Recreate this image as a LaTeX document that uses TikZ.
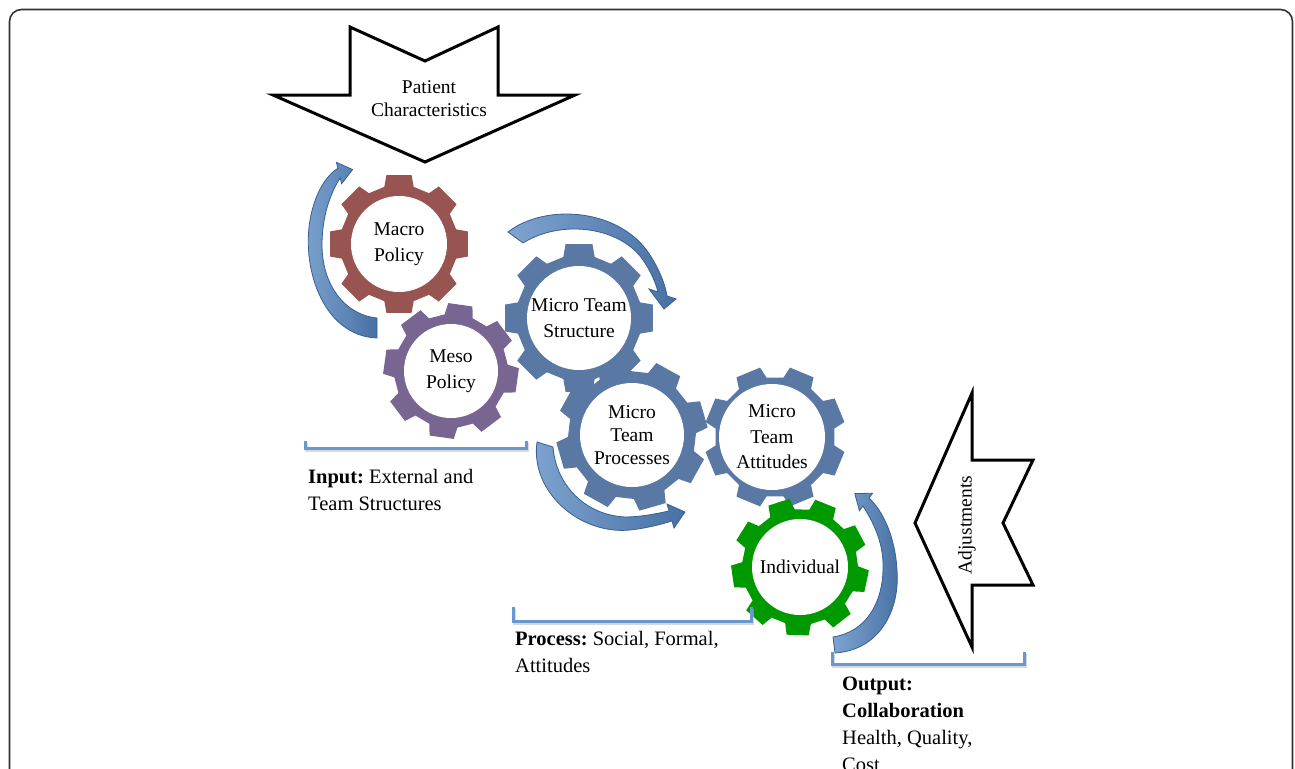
\documentclass[tikz,border=0pt]{standalone}
\usepackage{fontspec}
\setmainfont{Liberation Serif}
\definecolor{macroc}{RGB}{152,84,80}
\definecolor{mesoc}{RGB}{121,101,146}
\definecolor{microc}{RGB}{90,120,164}
\definecolor{indc}{RGB}{0,153,0}
\definecolor{arrowfill}{RGB}{84,133,192}
\definecolor{arrowline}{RGB}{55,95,150}
\definecolor{bracketc}{RGB}{105,152,208}
\definecolor{framec}{RGB}{50,50,50}
\newcommand\gearbody[7]{%
  \begin{scope}[shift={(#1,#2)},rotate=#3]
    \pgfmathsetmacro\gstep{360/#7}
    \fill[#4] (0.68*\gstep:#6) \foreach \i in {1,...,#7}{
      -- ({\i*\gstep-0.32*\gstep}:#6) -- ({\i*\gstep-0.23*\gstep}:#5)
      -- ({\i*\gstep+0.23*\gstep}:#5) -- ({\i*\gstep+0.32*\gstep}:#6)} -- cycle;
  \end{scope}}
\tikzset{
  hole/.style={circle, fill=white, inner sep=0pt, align=center,
    font=\fontsize{19.5}{25.5}\selectfont},
  blockarrow/.style={draw=black, line width=3pt, fill=white, line join=miter},
  curvearrow/.style={left color=arrowfill!75!white, right color=arrowfill!85!black,
    draw=arrowline, line width=0.8pt},
  bracket/.style={draw=bracketc, line width=3pt},
  bshadow/.style={draw=black!30, line width=3pt, opacity=0.5},
  note/.style={anchor=north west, align=left, inner sep=0pt,
    font=\fontsize{20.5}{27}\selectfont},
  label/.style={align=center, inner sep=0pt, font=\fontsize{19.5}{23}\selectfont}
}
\frenchspacing
\begin{document}
\begin{tikzpicture}[x=1pt,y=-1pt]
\useasboundingbox (0,0) rectangle (1295,768);
\clip (0,0) rectangle (1295,768);
% frame
\draw[framec, line width=1.6pt, rounded corners=12pt] (9.5,9.5) rectangle (1292.5,800);

% block arrows
\draw[blockarrow] (350,27) -- (425,61) -- (498,27) -- (498,95) -- (575,95)
  -- (425,162) -- (273,95) -- (350,95) -- cycle;
\node[label] (patient) at (429,98.5) {Patient\\Characteristics};
\draw[blockarrow] (972,393) -- (972,460) -- (1033,460) -- (1003,523) -- (1033,585)
  -- (972,585) -- (972,647) -- (915,523) -- cycle;
\node[label, rotate=90] (adjust) at (967,525) {Adjustments};

% gears
\gearbody{399}{244}{0}{macroc}{70}{59}{8}
\node[hole, minimum size=96] (macro) at (399,244) {Macro\\Policy};
\gearbody{451}{371}{-8}{mesoc}{68}{57}{8}
\node[hole, minimum size=94] (meso) at (451,371) {Meso\\Policy};
\gearbody{579}{318}{0}{microc}{75}{63}{8}
\node[hole, minimum size=104] (structure) at (579,318) {Micro Team\\Structure};
\gearbody{632}{435}{16}{microc}{76}{64}{8}
\node[hole, minimum size=104, font=\fontsize{19.5}{23}\selectfont] (processes) at (632,435) {Micro\\Team\\Processes};
\gearbody{775}{437}{22.5}{microc}{71}{60}{8}
\node[hole, minimum size=106] (attitudes) at (772,437) {Micro\\Team\\Attitudes};
\gearbody{800}{567}{-12}{indc}{69}{58}{9}
\node[hole, minimum size=96] (individual) at (800,567) {Individual};

% curved arrows
\path[curvearrow] (377,318) -- (377,338) .. controls (322,336) and (300,265) .. (311,215)
  .. controls (316,192) and (326,176) .. (337.8,168.2) -- (336.4,162.3) -- (352.6,169.6)
  -- (341.6,183.7) -- (340.2,177.9) .. controls (331,192) and (322,215) .. (322,245)
  .. controls (322,285) and (345,315) .. (377,318) -- cycle;
\path[curvearrow] (508,232) .. controls (545,203) and (620,208) .. (650,255)
  .. controls (660,271) and (665,284) .. (667,296) -- (676,299) -- (664,309) -- (649,289)
  -- (658,292) .. controls (655,280) and (648,266) .. (640,256)
  .. controls (615,226) and (560,220) .. (523,243) -- cycle;
\path[curvearrow] (537,442) .. controls (530,492) and (580,535) .. (630,530)
  .. controls (648,528) and (662,524) .. (672,521) -- (674,528) -- (685,512) -- (667,504)
  -- (669,511) .. controls (655,514) and (640,517) .. (625,517)
  .. controls (585,515) and (556,485) .. (553,447) -- cycle;
\path[curvearrow] (835,653) .. controls (880,650) and (900,610) .. (897,570)
  .. controls (895,535) and (882,510) .. (869,498) -- (872.6,493.2) -- (854.8,493.6)
  -- (859.4,510.8) -- (863,506) .. controls (875,525) and (884,545) .. (883,570)
  .. controls (882,605) and (865,632) .. (833,637) -- cycle;

% brackets
\draw[bshadow] (306.5,443) -- (306.5,450.5) -- (527.5,450.5) -- (527.5,443);
\draw[bracket] (305,441) -- (305,448) -- (526,448) -- (526,441);
\draw[bshadow] (514.5,609) -- (514.5,623.5) -- (752.5,623.5) -- (752.5,609);
\draw[bracket] (513,607) -- (513,621) -- (751,621) -- (751,607);
\draw[bshadow] (833.5,654) -- (833.5,666.5) -- (1025.5,666.5) -- (1025.5,654);
\draw[bracket] (832,652) -- (832,664) -- (1024,664) -- (1024,652);

% bracket texts
\node[note] (input) at (308,469) {\textbf{Input:} External and\\Team Structures};
\node[note] (process) at (515,631) {\textbf{Process:} Social, Formal,\\Attitudes};
\node[note] (output) at (842,677) {\textbf{Output:}\\\textbf{Collaboration}\\Health, Quality,\\Cost};
\end{tikzpicture}
\end{document}
